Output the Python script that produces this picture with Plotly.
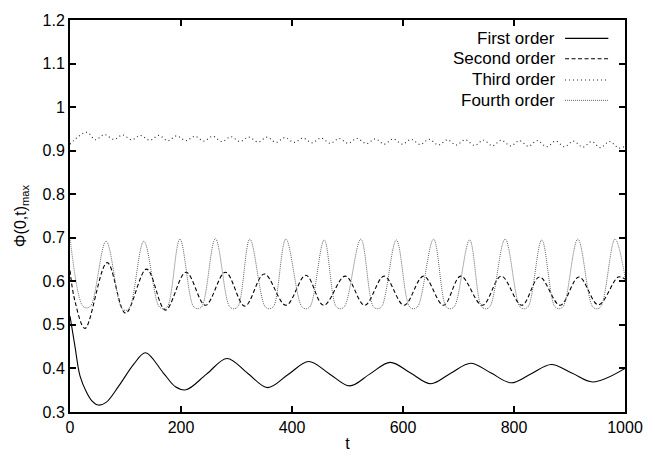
import plotly.graph_objects as go

# ---------------- data ----------------
t_first = [0, 9, 18, 30, 40, 51, 65, 88, 115, 136, 168, 190, 209, 246, 283, 320, 356,
           393, 430, 467, 504, 540, 577, 613, 650, 686, 722, 758, 795, 831, 867, 905,
           942, 1000]
v_first = [0.52, 0.45, 0.383, 0.345, 0.325, 0.316, 0.322, 0.36, 0.41, 0.436, 0.39, 0.358,
           0.351, 0.387, 0.423, 0.389, 0.356, 0.386, 0.416, 0.388, 0.360, 0.387, 0.414,
           0.39, 0.365, 0.389, 0.412, 0.39, 0.367, 0.388, 0.409, 0.389, 0.369, 0.40]

t_second = [0, 9, 27, 67, 100, 138, 172, 209, 244, 280, 315, 350, 389, 425, 457, 496,
            531, 566, 602, 637, 673, 704, 743, 777, 814, 846, 883, 917, 952, 988, 1000]
v_second = [0.625, 0.554, 0.492, 0.643, 0.527, 0.628, 0.534, 0.621, 0.545, 0.621, 0.543,
            0.617, 0.545, 0.614, 0.545, 0.612, 0.545, 0.612, 0.545, 0.612, 0.545, 0.612,
            0.545, 0.612, 0.545, 0.61, 0.545, 0.61, 0.546, 0.61, 0.605]

t_third = [0, 30, 46, 62, 79, 95, 111, 127, 144, 160, 176, 192, 209, 225, 241, 257, 274,
           290, 306, 322, 339, 355, 371, 387, 404, 420, 436, 452, 469, 485, 501, 517,
           534, 550, 566, 582, 599, 615, 631, 647, 664, 680, 696, 712, 729, 745, 761,
           777, 794, 810, 826, 842, 859, 875, 891, 907, 924, 940, 956, 972, 989, 1000]
v_third = [0.915, 0.942, 0.925, 0.937, 0.926, 0.936, 0.925, 0.935, 0.924, 0.935, 0.923,
           0.934, 0.923, 0.933, 0.922, 0.933, 0.921, 0.932, 0.921, 0.931, 0.920, 0.931,
           0.919, 0.930, 0.919, 0.929, 0.918, 0.929, 0.917, 0.928, 0.917, 0.928, 0.916,
           0.927, 0.915, 0.927, 0.915, 0.926, 0.914, 0.926, 0.913, 0.925, 0.913, 0.925,
           0.912, 0.924, 0.911, 0.924, 0.911, 0.923, 0.910, 0.923, 0.909, 0.922, 0.909,
           0.922, 0.908, 0.921, 0.907, 0.921, 0.906, 0.91]

t_fourth = [0, 22, 30, 38, 65, 92, 100, 108, 133, 160, 168, 176, 198, 222, 230, 238,
            262, 287, 295, 303, 324, 351, 359, 367, 389, 417, 425, 433, 458, 479, 487,
            495, 524, 546, 554, 562, 588, 611, 619, 627, 655, 677, 685, 693, 720, 741,
            749, 757, 784, 810, 818, 826, 850, 873, 881, 889, 915, 941, 949, 957, 982,
            1000]
v_fourth = [0.70, 0.545, 0.539, 0.545, 0.692, 0.541, 0.533, 0.541, 0.692, 0.543, 0.537,
            0.543, 0.697, 0.543, 0.537, 0.543, 0.698, 0.543, 0.537, 0.543, 0.697, 0.543,
            0.537, 0.543, 0.697, 0.543, 0.537, 0.543, 0.695, 0.543, 0.537, 0.543, 0.697,
            0.543, 0.537, 0.543, 0.695, 0.543, 0.537, 0.543, 0.697, 0.543, 0.537, 0.543,
            0.695, 0.543, 0.537, 0.543, 0.697, 0.543, 0.537, 0.543, 0.695, 0.543, 0.537,
            0.543, 0.697, 0.543, 0.537, 0.543, 0.697, 0.61]

names = ["First order", "Second order", "Third order", "Fourth order"]
y_ticks = [0.3, 0.4, 0.5, 0.6, 0.7, 0.8, 0.9, 1.0, 1.1, 1.2]
y_tick_text = ["0.3", "0.4", "0.5", "0.6", "0.7", "0.8", "0.9", "1", "1.1", "1.2"]
x_ticks = [0, 200, 400, 600, 800, 1000]

# ---------------- styles ----------------
styles = [
    dict(color="black", width=1.1, dash="solid"),
    dict(color="black", width=1.1, dash="4px,2.5px"),
    dict(color="#222222", width=1.1, dash="1px,3px"),
    dict(color="#666666", width=1.0, dash="1px,1px"),
]
series = [(t_first, v_first), (t_second, v_second), (t_third, v_third), (t_fourth, v_fourth)]

FONT = "Liberation Sans, Arial, Helvetica, sans-serif"

fig = go.Figure()
for (tx, vy), st, nm in zip(series, styles, names):
    fig.add_trace(go.Scatter(x=tx, y=vy, mode="lines", name=nm, showlegend=False,
                             line=dict(shape="spline", smoothing=1.0, **st)))

# gnuplot-style key: text right-aligned, sample line to its right
key_y = [0.953, 0.901, 0.847, 0.795]
for nm, st, ky in zip(names, styles, key_y):
    fig.add_annotation(xref="paper", yref="paper", x=0.878, y=ky, text=nm,
                       showarrow=False, xanchor="right", yanchor="middle",
                       font=dict(family=FONT, size=17, color="black"))
    fig.add_shape(type="line", xref="paper", yref="paper", x0=0.892, x1=0.970,
                  y0=ky, y1=ky, line=st)

axis_common = dict(showgrid=False, zeroline=False, showline=True, linecolor="black",
                   linewidth=2, mirror="ticks", ticks="inside", ticklen=6,
                   tickwidth=1.5, tickcolor="black",
                   tickfont=dict(family=FONT, size=16, color="black"))

fig.update_xaxes(range=[0, 1000], tickvals=x_ticks,
                 title=dict(text="t", font=dict(family=FONT, size=16, color="black"),
                            standoff=3),
                 **axis_common)
fig.update_yaxes(range=[0.3, 1.2], tickvals=y_ticks, ticktext=y_tick_text,
                 title=dict(text="Φ(0,t)<sub>max</sub>",
                            font=dict(family=FONT, size=16, color="black"), standoff=12),
                 **axis_common)

fig.update_layout(width=655, height=462, margin=dict(l=70, r=20, t=13, b=45),
                  paper_bgcolor="white", plot_bgcolor="white")

fig.write_html("out.html")
